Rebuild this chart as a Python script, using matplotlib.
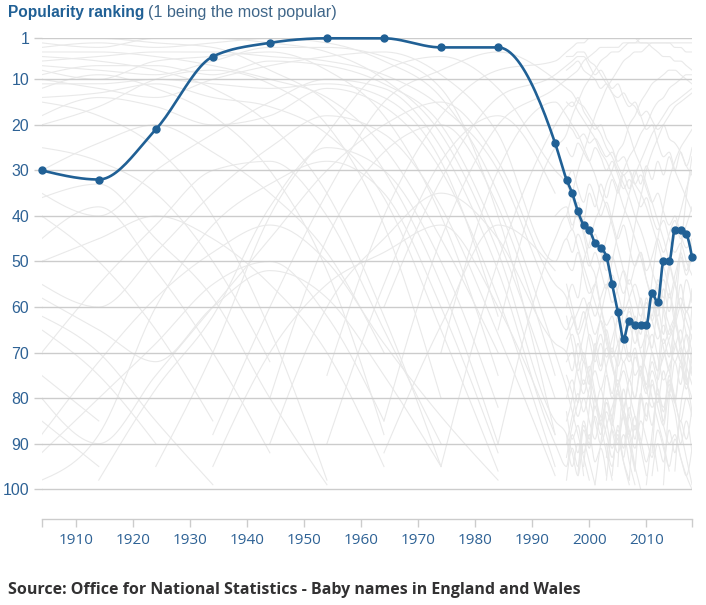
import numpy as np
import matplotlib
matplotlib.use('Agg')
import matplotlib.pyplot as plt

N = None

# years with data: every 10 years up to 1994, then yearly
years = [1904, 1914, 1924, 1934, 1944, 1954, 1964, 1974, 1984, 1994,
         1996, 1997, 1998, 1999, 2000, 2001, 2002, 2003, 2004, 2005, 2006,
         2007, 2008, 2009, 2010, 2011, 2012, 2013, 2014, 2015, 2016, 2017, 2018]
old_years = years[:10]
new_years = years[10:]

# highlighted name
ranks = [30, 32, 21, 5, 2, 1, 1, 3, 3, 24,
         32, 35, 39, 42, 43, 46, 47, 49, 55, 61, 67,
         63, 64, 64, 64, 57, 59, 50, 50, 43, 43, 44, 49]

# other names in the background (estimated)
gray_both = [
    [N, N, N, N, N, 75, 40, 18, 8, 6, 4, 3, 2, 2, 1, 1, 1, 1, 1, 1, 1, 1, 1, 2, 2, 3, 4, 5, 5, 6, 6, 7, 8],
    [N, N, N, 88, 60, 35, 15, 8, 4, 10, 12, 13, 15, 16, 18, 20, 22, 25, 27, 30, 33, 36, 40, 43, 47, 52, 56, 60, 64, 68, 72, 76, 80],
    [N, N, N, N, N, N, 85, 45, 20, 12, 10, 9, 8, 6, 5, 4, 3, 3, 3, 3, 2, 2, 2, 1, 1, 1, 1, 1, 1, 1, 1, 1, 1],
    [N, N, N, N, N, N, N, 70, 30, 15, 18, 20, 22, 25, 28, 31, 35, 38, 42, 47, 52, 58, 63, 70, 74, 80, 85, 90, 96, N, N, N, N],
    [N, N, N, N, N, N, N, N, 65, 25, 22, 18, 15, 12, 10, 8, 6, 5, 4, 4, 3, 2, 2, 2, 2, 2, 2, 2, 2, 3, 3, 4, 4],
    [N, N, 95, 70, 40, 22, 8, 5, 12, 30, 33, 36, 40, 44, 50, 53, 60, 66, 72, 78, 84, 90, 95, 100, N, N, N, N, N, N, N, N, N],
    [N, N, N, N, N, N, N, N, N, 40, 38, 42, 39, 43, 47, 44, 48, 52, 49, 53, 57, 54, 58, 62, 59, 63, 67, 64, 68, 72, 69, 73, 77],
    [80, 90, 75, 60, 45, 30, 20, 15, 28, 55, 58, 62, 66, 71, 75, 80, 86, 92, 98, N, N, N, N, N, N, N, N, N, N, N, N, N, N],
    [N, N, N, N, 90, 60, 45, 35, 45, 68, 70, 74, 68, 72, 66, 70, 74, 69, 73, 77, 72, 76, 71, 75, 79, 74, 78, 82, 77, 81, 85, 80, 84],
    [3, 2, 3, 2, 1, 2, 6, 14, 35, 70, 78, 83, 88, 93, 98, N, N, N, N, N, N, N, N, N, N, N, N, N, N, N, N, N, N],
    [2, 3, 1, 1, 2, 4, 10, 22, 48, 85, 88, 92, 97, 90, 94, 99, N, N, N, N, N, N, N, N, N, N, N, N, N, N, N, N, N],
    [35, 40, 30, 22, 15, 10, 12, 25, 52, 90, 95, 88, 92, 85, 89, 82, 86, 80, 84, 78, 82, 76, 80, 74, 78, 72, 76, 70, 74, 68, 72, 66, 70],
    [6, 5, 4, 4, 5, 6, 9, 16, 30, 60, 65, 62, 66, 63, 59, 62, 58, 55, 59, 56, 52, 55, 51, 48, 52, 49, 45, 48, 44, 41, 45, 42, 38],
    [10, 12, 14, 10, 7, 5, 4, 9, 22, 50, 45, 48, 44, 47, 51, 48, 52, 56, 53, 57, 61, 58, 55, 59, 63, 60, 64, 68, 65, 62, 58, 61, 57],
    [N, N, N, N, N, N, 60, 32, 14, 9, 7, 6, 5, 5, 7, 9, 8, 10, 12, 11, 14, 16, 15, 18, 21, 20, 24, 27, 26, 30, 33, 36, 39],
    [N, N, N, N, N, N, N, 95, 50, 20, 16, 15, 17, 19, 21, 23, 26, 28, 31, 34, 38, 41, 45, 49, 54, 58, 63, 69, 74, 80, 87, 93, 99],
    [N, N, N, N, N, N, N, N, 90, 45, 40, 43, 37, 41, 35, 38, 33, 36, 32, 35, 31, 34, 30, 33, 29, 32, 28, 31, 27, 30, 26, 29, 25],
]

gray_old = [
    [55, 60, 48, 35, 25, 18, 22, 38, 66, 97],
    [1, 1, 2, 3, 8, 15, 30, 55, 90, N],
    [5, 6, 8, 12, 20, 35, 62, 95, N, N],
    [8, 10, 6, 5, 4, 8, 18, 40, 75, N],
    [12, 9, 12, 18, 30, 52, 88, N, N, N],
    [15, 18, 25, 40, 65, 98, N, N, N, N],
    [20, 16, 10, 8, 11, 20, 42, 80, N, N],
    [25, 28, 35, 50, 72, N, N, N, N, N],
    [45, 38, 52, 70, 92, N, N, N, N, N],
    [62, 70, 85, 99, N, N, N, N, N, N],
    [70, 55, 42, 30, 28, 40, 65, 90, N, N],
    [92, 80, 68, 55, 50, 62, 85, N, N, N],
    [40, 50, 65, 85, N, N, N, N, N, N],
    [50, 45, 40, 45, 55, 70, 95, N, N, N],
    [65, 75, 90, N, N, N, N, N, N, N],
    [N, 98, 78, 62, 38, 25, 30, 50, 82, N],
    [30, 24, 20, 26, 35, 48, 70, N, N, N],
    [75, 85, N, N, N, N, N, N, N, N],
    [4, 4, 5, 7, 10, 14, 25, 45, 70, N],
    [7, 8, 9, 6, 3, 3, 5, 12, 40, 88],
    [18, 14, 16, 20, 18, 12, 16, 30, 58, 95],
    [85, 95, N, N, N, 90, 55, 28, 18, 35],
    [98, 88, 60, 42, 33, 28, 35, 60, 92, N],
    [N, N, N, N, 80, 45, 26, 20, 38, 75],
    [9, 7, 7, 9, 6, 7, 11, 20, 45, 80],
    [11, 11, 10, 11, 12, 11, 14, 28, 62, N],
    [14, 13, 11, 14, 16, 22, 36, 65, 96, N],
    [58, 65, 72, 60, 52, 58, 75, 95, N, N],
    [88, 72, 58, 48, 42, 50, 68, 84, 98, N],
    [N, N, N, 95, 70, 55, 48, 42, 60, 88],
    [N, N, N, N, N, N, 92, 64, 42, 52],
    [36, 33, 45, 58, 80, 99, N, N, N, N],
]

gray_new = [
    [40, 35, 30, 26, 22, 18, 15, 12, 10, 8, 6, 5, 4, 4, 3, 2, 2, 2, 2, 2, 2, 2, 2],
    [60, 55, 58, 50, 46, 41, 38, 33, 30, 26, 24, 20, 18, 15, 13, 11, 10, 9, 8, 8, 9, 10, 11],
    [85, 80, 72, 66, 60, 55, 50, 45, 40, 34, 30, 27, 25, 22, 20, 17, 15, 14, 12, 11, 10, 9, 9],
    [N, N, N, 95, 82, 70, 62, 56, 50, 44, 40, 35, 31, 28, 25, 22, 20, 18, 16, 15, 14, 13, 12],
    [50, 52, 48, 53, 57, 55, 60, 64, 62, 68, 72, 70, 75, 73, 78, 82, 80, 86, 90, 88, 93, 97, 100],
    [N, N, N, N, N, N, N, 98, 85, 72, 60, 50, 42, 36, 30, 26, 23, 20, 18, 16, 15, 14, 13],
    [N, N, N, N, N, N, N, N, N, N, N, N, 96, 80, 66, 54, 45, 38, 32, 28, 25, 23, 21],
    [25, 27, 24, 26, 28, 25, 27, 30, 28, 31, 34, 32, 35, 38, 36, 40, 43, 41, 45, 48, 46, 50, 53],
    [90, 84, 79, 83, 78, 74, 78, 73, 69, 73, 68, 64, 68, 63, 59, 63, 58, 54, 58, 53, 49, 53, 48],
    [N, N, N, N, N, 99, 90, 83, 86, 79, 83, 76, 80, 73, 77, 70, 74, 67, 71, 64, 68, 61, 65],
    [75, 79, 84, 80, 85, 89, 84, 88, 93, 89, 94, 98, N, N, N, N, N, N, N, N, N, N, N],
    [N, N, N, N, N, N, N, N, N, N, N, N, N, N, N, N, N, 99, 80, 62, 48, 36, 27],
    [5, 5, 4, 4, 6, 7, 9, 11, 13, 16, 19, 22, 26, 29, 33, 37, 41, 45, 50, 55, 60, 66, 72],
    [8, 7, 6, 8, 9, 10, 12, 11, 13, 14, 13, 15, 16, 18, 17, 19, 21, 20, 23, 24, 26, 29, 31],
    [N, N, N, N, N, N, N, N, N, N, N, N, N, N, N, 92, 75, 60, 52, 44, 39, 34, 30],
    [70, 66, 71, 77, 73, 79, 85, 81, 87, 92, 88, 94, 99, N, N, N, N, N, N, N, N, N, N],
    [98, 91, 95, 87, 91, 84, 88, 81, 85, 89, 83, 87, 91, 85, 89, 93, 87, 91, 95, 89, 93, 97, 91],
    [15, 16, 14, 17, 19, 21, 20, 23, 25, 28, 27, 30, 33, 31, 34, 37, 35, 39, 42, 40, 44, 47, 45],
    [N, N, 97, 86, 90, 80, 84, 75, 79, 70, 66, 71, 62, 66, 58, 62, 54, 58, 51, 55, 48, 52, 46],
    [33, 30, 34, 37, 33, 36, 40, 37, 41, 45, 42, 47, 51, 48, 54, 58, 55, 61, 66, 63, 70, 76, 73],
    [N, N, N, N, N, N, N, N, N, 95, 78, 84, 70, 75, 64, 69, 60, 66, 57, 63, 55, 61, 56],
    [55, 60, 65, 61, 67, 72, 68, 74, 80, 76, 82, 88, 84, 91, 97, N, N, N, N, N, N, N, N],
    [80, 76, 81, 72, 77, 68, 73, 65, 70, 62, 67, 60, 65, 58, 63, 57, 62, 56, 61, 55, 60, 54, 59],
    [N, N, N, N, N, N, N, 90, 95, 86, 91, 82, 87, 79, 84, 76, 81, 74, 79, 72, 77, 70, 75],
    [62, 68, 74, 70, 76, 82, 78, 85, 91, 87, 94, 99, N, N, N, N, N, N, N, N, N, N, N],
    [N, N, N, N, N, N, N, N, 97, 88, 93, 84, 89, 80, 85, 77, 82, 86, 79, 83, 90, 85, 92],
    [72, 70, 75, 79, 74, 70, 66, 71, 67, 63, 68, 72, 69, 74, 70, 66, 71, 76, 73, 69, 65, 70, 66],
    [88, 95, 90, 97, N, N, N, N, N, N, N, 98, 86, 90, 81, 86, 78, 83, 75, 80, 73, 78, 71],
    [45, 43, 47, 51, 55, 59, 63, 68, 73, 78, 84, 90, 96, N, N, N, N, N, N, N, N, N, N],
    [N, N, N, N, N, N, N, N, N, N, N, N, N, N, 99, 88, 79, 85, 76, 81, 72, 77, 69],
    [93, 86, 81, 76, 80, 85, 90, 86, 82, 78, 74, 79, 84, 89, 94, 90, 96, N, N, N, N, N, N],
    [67, 64, 61, 58, 62, 66, 63, 67, 71, 68, 64, 61, 65, 69, 66, 70, 74, 71, 67, 64, 60, 63, 67],
    [N, N, N, N, N, N, N, N, N, N, N, N, N, N, N, N, N, N, N, 96, 82, 74, 60],
    [83, 89, 86, 92, 88, 94, 91, 97, N, N, N, N, N, N, N, 97, 90, 94, 87, 92, 85, 89, 82],
    [20, 21, 23, 22, 24, 23, 25, 27, 26, 29, 31, 30, 33, 35, 38, 42, 46, 51, 56, 62, 68, 75, 83],
    [N, N, N, N, N, N, N, 93, 87, 90, 84, 88, 95, N, N, N, N, N, N, N, N, N, N],
]


def monotone(xs, ys, n=24):
    # monotone cubic interpolation in x (same as d3.curveMonotoneX)
    x = np.asarray(xs, float)
    y = np.asarray(ys, float)
    m = len(x)
    if m < 3:
        return x, y
    h = np.diff(x)
    s = np.diff(y) / h
    t = np.zeros(m)
    for i in range(1, m - 1):
        p = (s[i - 1] * h[i] + s[i] * h[i - 1]) / (h[i - 1] + h[i])
        t[i] = (np.sign(s[i - 1]) + np.sign(s[i])) * min(abs(s[i - 1]), abs(s[i]), 0.5 * abs(p))
    t[0] = (3 * s[0] - t[1]) / 2
    t[-1] = (3 * s[-1] - t[-2]) / 2
    u = np.linspace(0, 1, n)
    h00 = 2 * u**3 - 3 * u**2 + 1
    h10 = u**3 - 2 * u**2 + u
    h01 = -2 * u**3 + 3 * u**2
    h11 = u**3 - u**2
    out_x, out_y = [], []
    for i in range(m - 1):
        out_x.append(x[i] + u * h[i])
        out_y.append(h00 * y[i] + h10 * h[i] * t[i] + h01 * y[i + 1] + h11 * h[i] * t[i + 1])
    return np.concatenate(out_x), np.concatenate(out_y)


def runs(xs, ys):
    cur_x, cur_y = [], []
    for a, b in zip(xs, ys):
        if b is None:
            if cur_x:
                yield cur_x, cur_y
            cur_x, cur_y = [], []
        else:
            cur_x.append(a)
            cur_y.append(b)
    if cur_x:
        yield cur_x, cur_y


blue = '#206095'
grid = '#cccccc'
label_col = '#2e6295'

fig = plt.figure(figsize=(7.06, 6.05), dpi=100)
ax = fig.add_axes([41.7 / 706, 1 - 519.3 / 605, (692 - 41.7) / 706, (519.3 - 38.3) / 605])

for xs, series in [(years, s) for s in gray_both] + [(old_years, s) for s in gray_old] + [(new_years, s) for s in gray_new]:
    for rx, ry in runs(xs, series):
        gx, gy = monotone(rx, ry)
        ax.plot(gx, gy, color='#e9e9e9', lw=0.8, zorder=1)

for v in [1, 10, 20, 30, 40, 50, 60, 70, 80, 90, 100]:
    ax.axhline(v, color=grid, lw=1, zorder=2)

mx, my = monotone(years, ranks)
ax.plot(mx, my, color=blue, lw=1.9, zorder=3, clip_on=False)
ax.plot(years, ranks, 'o', color=blue, ms=5, zorder=4, clip_on=False)

ax.set_xlim(1904, 2018)
ax.set_ylim(106.6, 1)

for side in ['top', 'right', 'left']:
    ax.spines[side].set_visible(False)
ax.spines['bottom'].set_color(grid)
ax.spines['bottom'].set_linewidth(1)

ax.set_yticks([1, 10, 20, 30, 40, 50, 60, 70, 80, 90, 100])
ax.tick_params(axis='y', length=6, color=grid, width=1, pad=3, labelsize=11.4, labelcolor=label_col)
ax.set_xticks([1904, 1910, 1920, 1930, 1940, 1950, 1960, 1970, 1980, 1990, 2000, 2010, 2018])
ax.set_xticklabels(['', '1910', '1920', '1930', '1940', '1950', '1960', '1970', '1980', '1990', '2000', '2010', ''])
ax.tick_params(axis='x', length=6, color=grid, width=1, pad=4, labelsize=11, labelcolor=label_col)
for lab in ax.get_yticklabels():
    lab.set_fontfamily('Liberation Sans')
for lab in ax.get_xticklabels():
    lab.set_fontfamily('Open Sans')

t1 = fig.text(8 / 706, 1 - 13 / 605, 'Popularity ranking', fontsize=11.2, fontweight='bold',
              color=blue, family='Liberation Sans', va='center', ha='left')
fig.canvas.draw()
bb = t1.get_window_extent()
fig.text(bb.x1 / 706 + 4 / 706, 1 - 13 / 605, '(1 being the most popular)', fontsize=11.6,
         color='#3f6689', family='Liberation Sans', va='center', ha='left')

fig.text(8 / 706, 1 - 590 / 605, 'Source: Office for National Statistics - Baby names in England and Wales',
         fontsize=11.5, fontweight='bold', color='#323132', family='Open Sans', va='center', ha='left')

fig.savefig('out.png', dpi=100)
